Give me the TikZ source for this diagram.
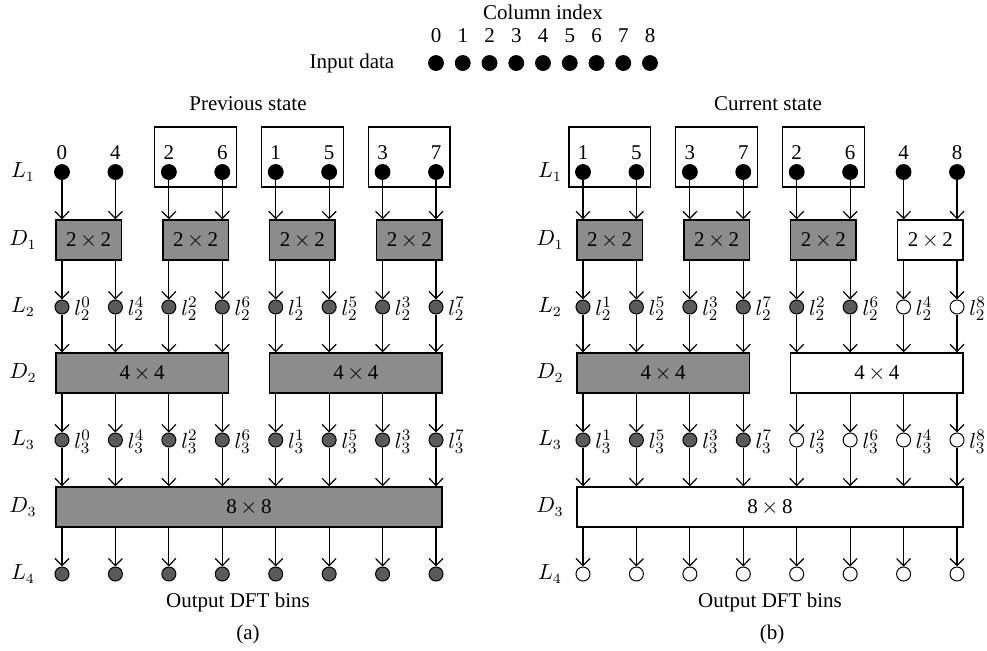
\documentclass[tikz,border=0pt]{standalone}
\usepackage{fontspec}
\setmainfont{Liberation Serif}
\usetikzlibrary{arrows.meta}
\definecolor{boxgray}{RGB}{140,140,140}
\definecolor{dotgray}{RGB}{90,90,90}
\begin{document}
\begin{tikzpicture}[x=0.5pt,y=-0.5pt,
  txt/.style={font=\fontsize{10.5}{12}\selectfont, inner sep=0pt},
  ltxt/.style={font=\fontsize{11}{12}\selectfont, inner sep=0pt, anchor=west},
  bdot/.style={circle, fill=black, draw=black, line width=0.4pt, minimum size=7.5pt, inner sep=0pt},
  gdot/.style={circle, fill=dotgray, draw=black, line width=0.5pt, minimum size=7pt, inner sep=0pt},
  wdot/.style={circle, fill=white, draw=black, line width=0.5pt, minimum size=7pt, inner sep=0pt},
  gbox/.style={draw=black, fill=boxgray, line width=0.7pt, inner sep=0pt, minimum height=20pt, txt},
  wbox/.style={draw=black, fill=white, line width=0.7pt, inner sep=0pt, minimum height=20pt, txt},
  grp/.style={draw=black, line width=0.6pt, inner sep=0pt, minimum height=30pt, minimum width=40.7pt},
  arr/.style={-{Straight Barb[length=3.6pt,width=7pt]}, line width=0.6pt},
]
\useasboundingbox (0,0) rectangle (987,650);

% ---------- top: input data ----------
\node[txt] (colidx) at (543,12) {Column index};
\node[txt] (indata) at (352,63) {Input data};
\foreach \i in {0,...,8} {
  \node[bdot] (in\i) at ({436+\i*26.75},63) {};
  \node[txt] (ci\i) at ({436+\i*26.75},36) {\i};
}

% ---------- panel (a) ----------
\node[txt] (prev) at (248,104) {Previous state};
\foreach \t/\y in {L_1/172, D_1/240, L_2/307, D_2/373, L_3/440, D_3/507, L_4/574} {
  \node[txt] at (23,\y) {$\t$};
}
\foreach \d [count=\i from 0] in {0,4,2,6,1,5,3,7} {
  \node[bdot] (aLoc\i) at ({62+\i*53.43},172) {};
  \node[txt] (aNum\i) at ({62+\i*53.43},153) {\d};
}
\foreach \j in {1,2,3} {
  \node[grp] (aGrp\j) at ({62+(2*\j+0.5)*53.43},157) {};
}
\foreach \s [count=\j from 0] in {gbox,gbox,gbox,gbox} {
  \node[\s, minimum width=32.7pt] (aDa\j) at ({62+(2*\j+0.5)*53.43},240) {2\,$\times$\,2};
}
\foreach \d/\s [count=\i from 0] in {0/gdot,4/gdot,2/gdot,6/gdot,1/gdot,5/gdot,3/gdot,7/gdot} {
  \node[\s] (aLtc\i) at ({62+\i*53.43},307) {};
  \node[ltxt] (aLtl\i) at ({62+\i*53.43+12},309) {$l_2^{\d}$};
}
\foreach \s [count=\j from 0] in {gbox,gbox} {
  \node[\s, minimum width=86.1pt] (aDb\j) at ({62+(4*\j+1.5)*53.43},373) {4\,$\times$\,4};
}
\foreach \d/\s [count=\i from 0] in {0/gdot,4/gdot,2/gdot,6/gdot,1/gdot,5/gdot,3/gdot,7/gdot} {
  \node[\s] (aLhc\i) at ({62+\i*53.43},440) {};
  \node[ltxt] (aLhl\i) at ({62+\i*53.43+12},442) {$l_3^{\d}$};
}
\node[gbox, minimum width=193pt] (aDc) at ({62+3.5*53.43},507) {8\,$\times$\,8};
\foreach \i in {0,...,7} {
  \node[gdot] (aLfc\i) at ({62+\i*53.43},574) {};
}
\node[txt] (aout) at (238,602) {Output DFT bins};
\node[txt] (acap) at (248,634) {(a)};
\foreach \i in {0,...,7} {
  \pgfmathtruncatemacro\j{\i/2}
  \pgfmathtruncatemacro\k{\i/4}
  \draw[arr] (aLoc\i) -- (aLoc\i |- aDa\j.north);
  \draw[arr] (aLoc\i |- aDa\j.south) -- (aLtc\i);
  \draw[arr] (aLtc\i) -- (aLtc\i |- aDb\k.north);
  \draw[arr] (aLtc\i |- aDb\k.south) -- (aLhc\i);
  \draw[arr] (aLhc\i) -- (aLhc\i |- aDc.north);
  \draw[arr] (aLhc\i |- aDc.south) -- (aLfc\i);
}

% ---------- panel (b) ----------
\node[txt] (curr) at (768,104) {Current state};
\foreach \t/\y in {L_1/172, D_1/240, L_2/307, D_2/373, L_3/440, D_3/507, L_4/574} {
  \node[txt] at (550,\y) {$\t$};
}
\foreach \d [count=\i from 0] in {1,5,3,7,2,6,4,8} {
  \node[bdot] (bLoc\i) at ({583+\i*53.43},172) {};
  \node[txt] (bNum\i) at ({583+\i*53.43},153) {\d};
}
\foreach \j in {0,1,2} {
  \node[grp] (bGrp\j) at ({583+(2*\j+0.5)*53.43},157) {};
}
\foreach \s [count=\j from 0] in {gbox,gbox,gbox,wbox} {
  \node[\s, minimum width=32.7pt] (bDa\j) at ({583+(2*\j+0.5)*53.43},240) {2\,$\times$\,2};
}
\foreach \d/\s [count=\i from 0] in {1/gdot,5/gdot,3/gdot,7/gdot,2/gdot,6/gdot,4/wdot,8/wdot} {
  \node[\s] (bLtc\i) at ({583+\i*53.43},307) {};
  \node[ltxt] (bLtl\i) at ({583+\i*53.43+12},309) {$l_2^{\d}$};
}
\foreach \s [count=\j from 0] in {gbox,wbox} {
  \node[\s, minimum width=86.1pt] (bDb\j) at ({583+(4*\j+1.5)*53.43},373) {4\,$\times$\,4};
}
\foreach \d/\s [count=\i from 0] in {1/gdot,5/gdot,3/gdot,7/gdot,2/wdot,6/wdot,4/wdot,8/wdot} {
  \node[\s] (bLhc\i) at ({583+\i*53.43},440) {};
  \node[ltxt] (bLhl\i) at ({583+\i*53.43+12},442) {$l_3^{\d}$};
}
\node[wbox, minimum width=193pt] (bDc) at ({583+3.5*53.43},507) {8\,$\times$\,8};
\foreach \i in {0,...,7} {
  \node[wdot] (bLfc\i) at ({583+\i*53.43},574) {};
}
\node[txt] (bout) at (770,602) {Output DFT bins};
\node[txt] (bcap) at (772,634) {(b)};
\foreach \i in {0,...,7} {
  \pgfmathtruncatemacro\j{\i/2}
  \pgfmathtruncatemacro\k{\i/4}
  \draw[arr] (bLoc\i) -- (bLoc\i |- bDa\j.north);
  \draw[arr] (bLoc\i |- bDa\j.south) -- (bLtc\i);
  \draw[arr] (bLtc\i) -- (bLtc\i |- bDb\k.north);
  \draw[arr] (bLtc\i |- bDb\k.south) -- (bLhc\i);
  \draw[arr] (bLhc\i) -- (bLhc\i |- bDc.north);
  \draw[arr] (bLhc\i |- bDc.south) -- (bLfc\i);
}
\end{tikzpicture}
\end{document}
